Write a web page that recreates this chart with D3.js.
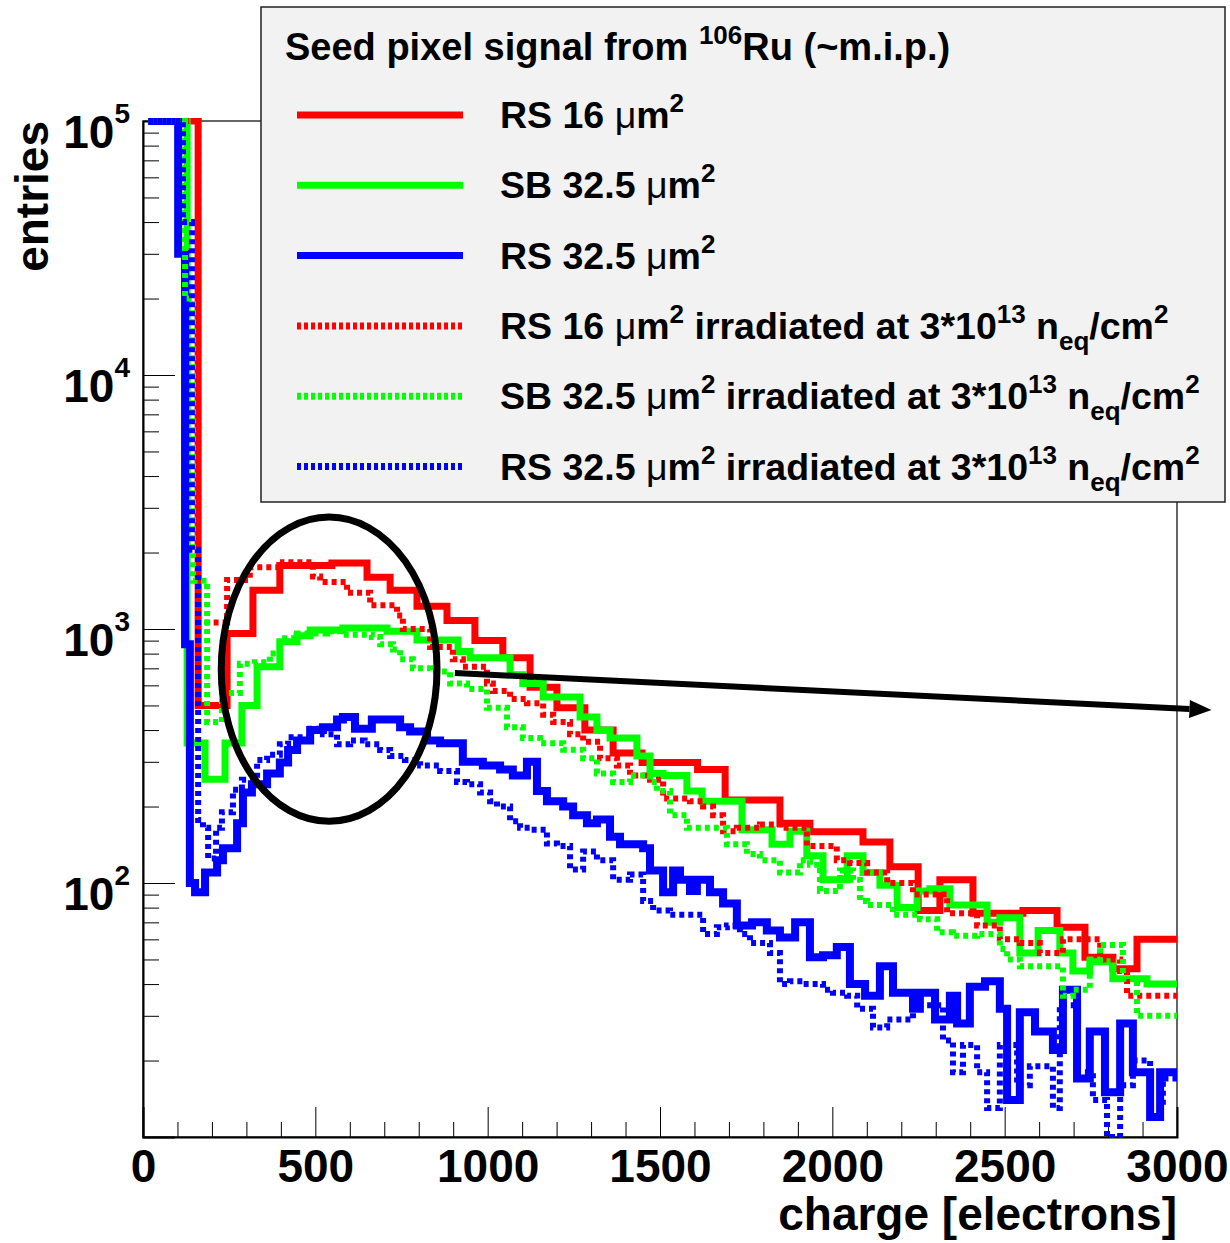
<!DOCTYPE html>
<html>
<head>
<meta charset="utf-8">
<title>Seed pixel signal from 106Ru</title>
<script src="https://d3js.org/d3.v7.min.js"></script>
<style>
  body { margin: 0; background: #ffffff; }
  svg { display: block; font-family: "Liberation Sans", Arial, Helvetica, sans-serif; font-weight: bold; }
  text { white-space: pre; }
</style>
</head>
<body>
<svg id="chart" width="1230" height="1243"></svg>
<script>
// axis ticks
var xMajor = [0, 500, 1000, 1500, 2000, 2500, 3000];
var yDecades = [2, 3, 4, 5];

// histograms as [lower bin edge (electrons), entries]; the last bin runs to 3000
var rs16 = [[15, 2e5], [160, 500], [244, 960], [319, 1420], [397, 1780], [548, 1820], [650, 1600],
  [717, 1420], [795, 1230], [882, 1080], [963, 900], [1044, 770], [1123, 590], [1201, 490],
  [1282, 400], [1364, 325], [1448, 298], [1609, 280], [1689, 212], [1848, 172], [1935, 159],
  [2089, 145], [2167, 116], [2249, 78], [2312, 103], [2408, 76], [2553, 78], [2652, 67],
  [2733, 51], [2814, 46], [2884, 60]];

var sb325 = [[15, 2e5], [128, 356], [180, 256], [238, 356], [287, 500], [331, 710], [397, 890],
  [447, 940], [485, 990], [580, 1010], [708, 980], [795, 905], [914, 815], [949, 770],
  [1065, 660], [1102, 610], [1161, 540], [1268, 450], [1317, 400], [1355, 372], [1433, 316],
  [1471, 270], [1509, 265], [1578, 230], [1622, 210], [1738, 162], [1825, 142], [1877, 160],
  [1926, 128], [1973, 103], [2043, 128], [2089, 110], [2138, 98], [2188, 80], [2246, 93],
  [2283, 95], [2341, 82], [2449, 70], [2486, 73], [2544, 53], [2597, 65], [2660, 53],
  [2698, 45], [2747, 49], [2814, 42], [2913, 40]];

var rs325 = [[15, 2e5], [102, 30000], [122, 870], [136, 100], [151, 92], [180, 110], [215, 123],
  [232, 137], [273, 172], [290, 227], [316, 245], [360, 270], [397, 298], [421, 334],
  [447, 364], [485, 400], [522, 410], [563, 440], [580, 450], [615, 405], [664, 440],
  [746, 410], [775, 395], [824, 364], [862, 355], [928, 300], [986, 290], [1036, 280],
  [1073, 265], [1114, 300], [1143, 230], [1172, 210], [1219, 200], [1248, 185], [1288, 172],
  [1317, 178], [1355, 152], [1384, 142], [1451, 137], [1471, 112], [1509, 92], [1538, 112],
  [1558, 103], [1587, 93], [1607, 103], [1645, 92], [1683, 83], [1723, 68], [1767, 70],
  [1810, 65], [1848, 61], [1892, 70], [1935, 51], [1973, 52], [2013, 56], [2051, 40],
  [2095, 36], [2138, 47], [2176, 37], [2234, 32], [2254, 37], [2298, 29], [2341, 36],
  [2362, 28], [2399, 39], [2443, 41], [2486, 32], [2507, 14], [2544, 31], [2588, 26],
  [2640, 22], [2669, 38], [2710, 17], [2747, 26], [2791, 15], [2835, 28], [2872, 18],
  [2922, 12], [2951, 18]];

var rs16Irr = [[15, 2e5], [160, 1060], [244, 1560], [310, 1750], [406, 1830], [493, 1610],
  [514, 1530], [592, 1390], [659, 1240], [737, 1130], [754, 1000], [833, 850], [899, 760],
  [928, 710], [998, 610], [1015, 570], [1065, 530], [1114, 510], [1161, 460], [1190, 430],
  [1239, 385], [1277, 360], [1326, 310], [1375, 290], [1413, 265], [1471, 255], [1509, 215],
  [1587, 210], [1625, 200], [1654, 185], [1683, 160], [1723, 165], [1790, 170], [1848, 165],
  [1926, 140], [2013, 123], [2051, 120], [2101, 110], [2159, 100], [2234, 90], [2333, 76],
  [2420, 68], [2486, 60], [2544, 58], [2602, 53], [2669, 60], [2777, 50], [2835, 45],
  [2855, 36]];

var sb325Irr = [[15, 2e5], [122, 20000], [145, 1550], [186, 430], [229, 560], [281, 730],
  [325, 740], [368, 800], [397, 920], [447, 960], [534, 980], [572, 950], [664, 930],
  [688, 870], [725, 830], [746, 760], [783, 700], [833, 680], [891, 610], [940, 580],
  [998, 490], [1056, 410], [1102, 372], [1152, 355], [1219, 335], [1277, 310], [1317, 270],
  [1364, 250], [1413, 265], [1471, 250], [1491, 230], [1529, 185], [1578, 165], [1694, 142],
  [1752, 130], [1790, 123], [1848, 110], [1906, 123], [1935, 118], [1964, 93], [2022, 112],
  [2060, 103], [2080, 85], [2101, 82], [2176, 75], [2254, 72], [2304, 64], [2350, 62],
  [2420, 63], [2486, 55], [2507, 50], [2544, 47], [2669, 36], [2698, 38], [2747, 50],
  [2777, 57], [2843, 42], [2884, 30]];

var rs325Irr = [[15, 2e5], [116, 40000], [142, 2050], [160, 177], [174, 165], [189, 125],
  [212, 165], [229, 190], [261, 233], [287, 255], [331, 305], [360, 320], [397, 352],
  [421, 375], [485, 405], [522, 385], [563, 352], [601, 364], [643, 352], [688, 334],
  [717, 316], [760, 305], [804, 290], [862, 276], [911, 250], [940, 245], [978, 227],
  [1007, 210], [1027, 200], [1065, 175], [1094, 165], [1123, 162], [1172, 143], [1201, 140],
  [1239, 113], [1277, 133], [1317, 123], [1364, 103], [1413, 108], [1451, 85], [1480, 78],
  [1529, 75], [1625, 63], [1665, 67], [1694, 68], [1732, 63], [1761, 58], [1819, 53],
  [1848, 40], [1877, 41], [1915, 40], [1973, 38], [2002, 37], [2043, 36], [2072, 32],
  [2118, 27], [2159, 29], [2234, 33], [2321, 24], [2350, 18], [2379, 23], [2420, 18],
  [2449, 13], [2486, 23], [2536, 16], [2573, 19], [2640, 13], [2660, 33], [2710, 18],
  [2756, 14], [2797, 10], [2835, 16], [2872, 20], [2922, 13], [2959, 17]];

var xMax = 3000;

// legend text pieces: plain, "mu" (symbol font), "sup", "sub"
var legendTitle = [["Seed pixel signal from "], ["106", "sup"], ["Ru (~m.i.p.)"]];
var legendLabels = [
  [["RS 16 "], ["\u03bc", "mu"], ["m"], ["2", "sup"]],
  [["SB 32.5 "], ["\u03bc", "mu"], ["m"], ["2", "sup"]],
  [["RS 32.5 "], ["\u03bc", "mu"], ["m"], ["2", "sup"]],
  [["RS 16 "], ["\u03bc", "mu"], ["m"], ["2", "sup"], [" irradiated at 3*10"], ["13", "sup"], [" n"], ["eq", "sub"], ["/cm"], ["2", "sup"]],
  [["SB 32.5 "], ["\u03bc", "mu"], ["m"], ["2", "sup"], [" irradiated at 3*10"], ["13", "sup"], [" n"], ["eq", "sub"], ["/cm"], ["2", "sup"]],
  [["RS 32.5 "], ["\u03bc", "mu"], ["m"], ["2", "sup"], [" irradiated at 3*10"], ["13", "sup"], [" n"], ["eq", "sub"], ["/cm"], ["2", "sup"]]
];

// circled peak region and arrow, in data coordinates
var circled = [[227, 175], [853, 2760]];
var arrowFrom = [905, 671];
var arrowTo = [3100, 480];

var series = [
  { data: rs16, color: "#ff0000", dotted: false, width: 7 },
  { data: sb325, color: "#00ff00", dotted: false, width: 7 },
  { data: rs325, color: "#0000ff", dotted: false, width: 8 },
  { data: rs16Irr, color: "#ff0000", dotted: true, width: 6 },
  { data: sb325Irr, color: "#00ff00", dotted: true, width: 6 },
  { data: rs325Irr, color: "#0000ff", dotted: true, width: 6 }
];

var padL = 143, padR = 1177, padT = 121, padB = 1137;
var svg = d3.select("#chart");

var x = d3.scaleLinear().domain([0, xMax]).range([padL, padR]);
var y = d3.scaleLog().domain([10, 1e5]).range([padB, padT]).clamp(true);

svg.append("defs").append("clipPath").attr("id", "frameClip")
  .append("rect").attr("x", padL).attr("y", padT - 3).attr("width", padR - padL).attr("height", padB - padT + 4);

// frame
svg.append("rect")
  .attr("x", padL).attr("y", padT).attr("width", padR - padL).attr("height", padB - padT)
  .attr("fill", "none").attr("stroke", "#000").attr("stroke-width", 1.2);

// x axis: minor ticks every 100, major every 500
var xMinor = d3.range(0, xMax + 1, 100).filter(function(d) { return d % 500 !== 0; });
svg.append("g").attr("transform", "translate(0," + padB + ")")
  .call(d3.axisBottom(x).tickValues(xMinor).tickSize(-15).tickFormat(""))
  .call(function(g) { g.select(".domain").remove(); });
var xAxisG = svg.append("g").attr("transform", "translate(0," + padB + ")")
  .call(d3.axisBottom(x).tickValues(xMajor).tickSize(-30).tickPadding(12).tickFormat(d3.format("d")));
xAxisG.select(".domain").attr("stroke-width", 2);
xAxisG.selectAll("text").attr("font-size", 46).attr("font-family", null).attr("fill", "#000");

// y axis: decades plus 2..9 minor ticks
var yMinor = [];
[1, 2, 3, 4].forEach(function(k) {
  d3.range(2, 10).forEach(function(m) { yMinor.push(m * Math.pow(10, k)); });
});
svg.append("g").attr("transform", "translate(" + padL + ",0)")
  .call(d3.axisLeft(y).tickValues(yMinor).tickSize(-16).tickFormat(""))
  .call(function(g) { g.select(".domain").remove(); });
var yAxisG = svg.append("g").attr("transform", "translate(" + padL + ",0)")
  .call(d3.axisLeft(y).tickValues(yDecades.map(function(k) { return Math.pow(10, k); })).tickSize(-32).tickFormat(""));
yAxisG.select(".domain").attr("stroke-width", 2);

yDecades.forEach(function(k) {
  var t = svg.append("text")
    .attr("x", padL - 13).attr("y", y(Math.pow(10, k)) + 27)
    .attr("text-anchor", "end").attr("font-size", 46);
  t.append("tspan").text("10");
  t.append("tspan").attr("dy", -25).attr("font-size", 28).text(k);
});

// histograms
var plot = svg.append("g").attr("clip-path", "url(#frameClip)");
var stepLine = d3.line()
  .x(function(d) { return x(d[0]); })
  .y(function(d) { return y(d[1]); })
  .curve(d3.curveStepAfter);

series.forEach(function(s) {
  var pts = s.data.concat([[xMax, s.data[s.data.length - 1][1]]]);
  plot.append("path")
    .attr("d", stepLine(pts))
    .attr("fill", "none")
    .attr("stroke", s.color)
    .attr("stroke-width", s.width)
    .attr("stroke-dasharray", s.dotted ? "5,4" : null);
});

// axis titles
svg.append("text")
  .attr("x", padR).attr("y", 1230)
  .attr("text-anchor", "end").attr("font-size", 46)
  .text("charge [electrons]");
svg.append("text")
  .attr("transform", "translate(48," + padT + ") rotate(-90)")
  .attr("text-anchor", "end").attr("font-size", 46)
  .text("entries");

// ellipse around the peak
var ex0 = x(circled[0][0]), ex1 = x(circled[1][0]);
var ey0 = y(circled[1][1]), ey1 = y(circled[0][1]);
svg.append("ellipse")
  .attr("cx", (ex0 + ex1) / 2).attr("cy", (ey0 + ey1) / 2)
  .attr("rx", (ex1 - ex0) / 2).attr("ry", (ey1 - ey0) / 2)
  .attr("fill", "none").attr("stroke", "#000").attr("stroke-width", 7);

// arrow
var ax0 = x(arrowFrom[0]), ay0 = y(arrowFrom[1]);
var ax1 = x(arrowTo[0]), ay1 = y(arrowTo[1]);
var len = Math.hypot(ax1 - ax0, ay1 - ay0);
var ux = (ax1 - ax0) / len, uy = (ay1 - ay0) / len;
var bx = ax1 - 22 * ux, by = ay1 - 22 * uy;
svg.append("line")
  .attr("x1", ax0).attr("y1", ay0).attr("x2", bx).attr("y2", by)
  .attr("stroke", "#000").attr("stroke-width", 6);
svg.append("polygon")
  .attr("points", [[ax1, ay1], [bx - 9 * uy, by + 9 * ux], [bx + 9 * uy, by - 9 * ux]].map(function(p) { return p.join(","); }).join(" "))
  .attr("fill", "#000");

// legend
var lg = svg.append("g");
lg.append("rect")
  .attr("x", 261).attr("y", 7).attr("width", 964).attr("height", 495)
  .attr("fill", "#f2f2f2").attr("stroke", "#222").attr("stroke-width", 1.5);

function richText(sel, parts, size) {
  var shift = 0;
  parts.forEach(function(p) {
    var ts = sel.append("tspan").text(p[0]);
    var target = 0;
    if (p[1] === "sup") { target = -Math.round(size * 0.42); ts.attr("font-size", Math.round(size * 0.68)); }
    if (p[1] === "sub") { target = Math.round(size * 0.28); ts.attr("font-size", Math.round(size * 0.68)); }
    if (p[1] === "mu") { ts.attr("font-weight", "normal"); }
    if (target !== shift) { ts.attr("dy", target - shift); shift = target; }
  });
}

richText(lg.append("text").attr("x", 285).attr("y", 60).attr("font-size", 38), legendTitle, 38);

legendLabels.forEach(function(parts, i) {
  var ry = 115 + i * 70.3;
  var s = series[i];
  lg.append("line")
    .attr("x1", 297).attr("x2", 463).attr("y1", ry).attr("y2", ry)
    .attr("stroke", s.color)
    .attr("stroke-width", 7)
    .attr("stroke-dasharray", s.dotted ? "4,3" : null);
  richText(lg.append("text").attr("x", 500).attr("y", ry + 13).attr("font-size", 37.5), parts, 37.5);
});
</script>
</body>
</html>
